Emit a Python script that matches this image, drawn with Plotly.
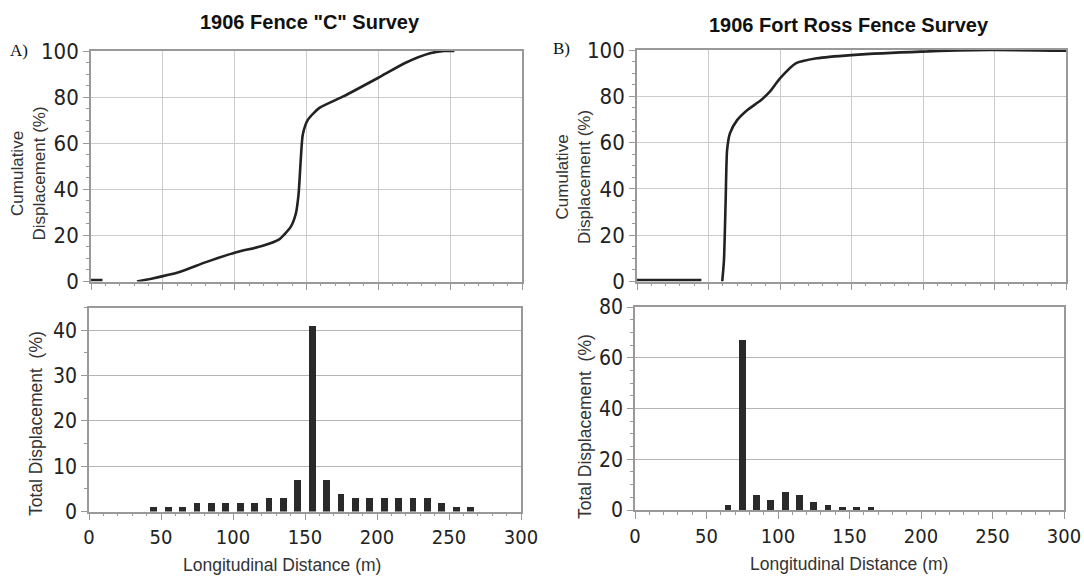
import plotly.graph_objects as go

# ---------------- data ----------------
# Panel A: 1906 Fence "C" survey
a_cum_x = [0, 8, None, 32, 42, 61, 80, 100, 119, 131, 139, 142.6, 144.5, 146, 147.4, 151, 159, 176, 200, 219, 236, 245.6, 253]
a_cum_y = [0.6, 0.6, None, 0, 1.2, 4, 8.4, 12.5, 15.4, 18.3, 23.7, 29.5, 38, 52.8, 63.7, 70.2, 75.3, 80.4, 88.4, 94.9, 99, 100, 100]
a_bar_x = [45, 55, 65, 75, 85, 95, 105, 115, 125, 135, 145, 155, 165, 175, 185, 195, 205, 215, 225, 235, 245, 255, 265]
a_bar_y = [1, 1, 1, 2, 2, 2, 2, 2, 3, 3, 7, 41, 7, 4, 3, 3, 3, 3, 3, 3, 2, 1, 1]

# Panel B: 1906 Fort Ross fence survey
b_cum_x = [0, 45, None, 59.6, 60.8, 62, 63, 65, 70, 77, 86.8, 92.9, 100, 111, 125.7, 150, 198.6, 247, 300]
b_cum_y = [0.6, 0.6, None, 0, 9, 35, 56.7, 64, 69.7, 74, 78.4, 82, 87.7, 94.2, 96.4, 97.8, 99.3, 100, 99.7]
b_bar_x = [65, 75, 85, 95, 105, 115, 125, 135, 145, 155, 165]
b_bar_y = [2, 67, 6, 4, 7, 6, 3, 2, 1, 1, 1]

x_ticks = [0, 50, 100, 150, 200, 250, 300]
titles = ['1906 Fence "C" Survey', '1906 Fort Ross Fence Survey']
panel_labels = ["A)", "B)"]
x_title = "Longitudinal Distance (m)"
y_title_top = "Cumulative<br>Displacement (%)"
y_title_bot = "Total Displacement  (%)"

# ---------------- figure ----------------
W, H = 1084, 576
def px(x): return x / W
def py(y): return 1 - y / H

LINE = "#222222"
BAR = "#2a2a2a"
GRID_TOP = "#cccccc"
GRID_BOT = "#b4b4b4"
FRAME = "#999999"
TICKFAM = "DejaVu Sans Condensed, DejaVu Sans"
TITLEFAM = "Liberation Sans"

fig = go.Figure()
fig.add_trace(go.Scatter(x=a_cum_x, y=a_cum_y, mode="lines", line=dict(color=LINE, width=2.6, shape="spline", smoothing=0.6),
                         connectgaps=False, xaxis="x", yaxis="y", showlegend=False))
fig.add_trace(go.Bar(x=a_bar_x, y=a_bar_y, width=4.8, marker=dict(color=BAR, line=dict(width=0)),
                     xaxis="x2", yaxis="y2", showlegend=False))
fig.add_trace(go.Scatter(x=b_cum_x, y=b_cum_y, mode="lines", line=dict(color=LINE, width=2.6, shape="spline", smoothing=0.6),
                         connectgaps=False, xaxis="x3", yaxis="y3", showlegend=False))
fig.add_trace(go.Bar(x=b_bar_x, y=b_bar_y, width=4.8, marker=dict(color=BAR, line=dict(width=0)),
                     xaxis="x4", yaxis="y4", showlegend=False))

def xax(domain, anchor, labels, grid):
    return dict(domain=domain, anchor=anchor, range=[0, 300], tickvals=x_ticks, automargin=False,
                showticklabels=labels, showgrid=grid, gridcolor=GRID_TOP, gridwidth=1,
                showline=True, linecolor=FRAME, linewidth=1.6, mirror=True,
                ticks="outside", ticklen=7, tickcolor=FRAME, zeroline=False,
                tickfont=dict(family=TICKFAM, size=20, color="#222"),
                minor=dict(dtick=10, ticks="outside", ticklen=3, tickcolor=FRAME, showgrid=False))

def yax(domain, anchor, rng, dtick, minor, fs, grid):
    return dict(domain=domain, anchor=anchor, range=rng, dtick=dtick, tick0=0, automargin=False,
                showgrid=True, gridcolor=grid, gridwidth=1.2,
                showline=True, linecolor=FRAME, linewidth=1.6, mirror=True,
                ticks="outside", ticklen=6, tickcolor=FRAME, zeroline=False,
                tickfont=dict(family=TICKFAM, size=fs, color="#222"),
                minor=dict(dtick=minor, ticks="outside", ticklen=3, tickcolor=FRAME, showgrid=False))

fig.update_layout(
    width=W, height=H, paper_bgcolor="white", plot_bgcolor="white",
    margin=dict(l=0, r=0, t=0, b=0), bargap=0,
    xaxis=xax([px(91), px(522)], "y", False, True),
    yaxis=yax([py(281.5), py(51)], "x", [0, 100], 20, 5, 22, GRID_TOP),
    xaxis2=xax([px(89), px(521)], "y2", True, False),
    yaxis2=yax([py(511.5), py(307.5)], "x2", [0, 45], 10, 5, 21, GRID_BOT),
    xaxis3=xax([px(637), px(1066)], "y3", False, True),
    yaxis3=yax([py(281.5), py(50)], "x3", [0, 100], 20, 5, 22, GRID_TOP),
    xaxis4=xax([px(635), px(1064)], "y4", True, False),
    yaxis4=yax([py(510), py(307)], "x4", [0, 80], 20, 5, 21, GRID_BOT),
)

def txt(text, x, y, size, fam=TITLEFAM, angle=0, color="#222"):
    return dict(text=text, x=px(x), y=py(y), xref="paper", yref="paper", xanchor="center", yanchor="middle",
                showarrow=False, textangle=angle, font=dict(family=fam, size=size, color=color))

ann = [
    txt("<b>" + titles[0] + "</b>", 310, 22, 20, color="#111"),
    txt("<b>" + titles[1] + "</b>", 849, 25, 20, color="#111"),
    txt(panel_labels[0], 19, 51, 17, fam="Liberation Serif", color="#111"),
    txt(panel_labels[1], 561, 48, 17, fam="Liberation Serif", color="#111"),
    txt(y_title_top, 28.5, 174, 17, angle=-90, color="#333"),
    txt(y_title_top, 573, 177, 17, angle=-90, color="#333"),
    txt(y_title_bot, 36, 424, 17.5, angle=-90, color="#333"),
    txt(y_title_bot, 585, 427, 17.5, angle=-90, color="#333"),
    txt(x_title, 282, 565, 17.5, color="#333"),
    txt(x_title, 849, 564, 17.5, color="#333"),
]
fig.update_layout(annotations=ann)

fig.write_html("out.html", config={"displayModeBar": False},
               post_script="document.body.style.margin='0';document.body.style.overflow='hidden';")
